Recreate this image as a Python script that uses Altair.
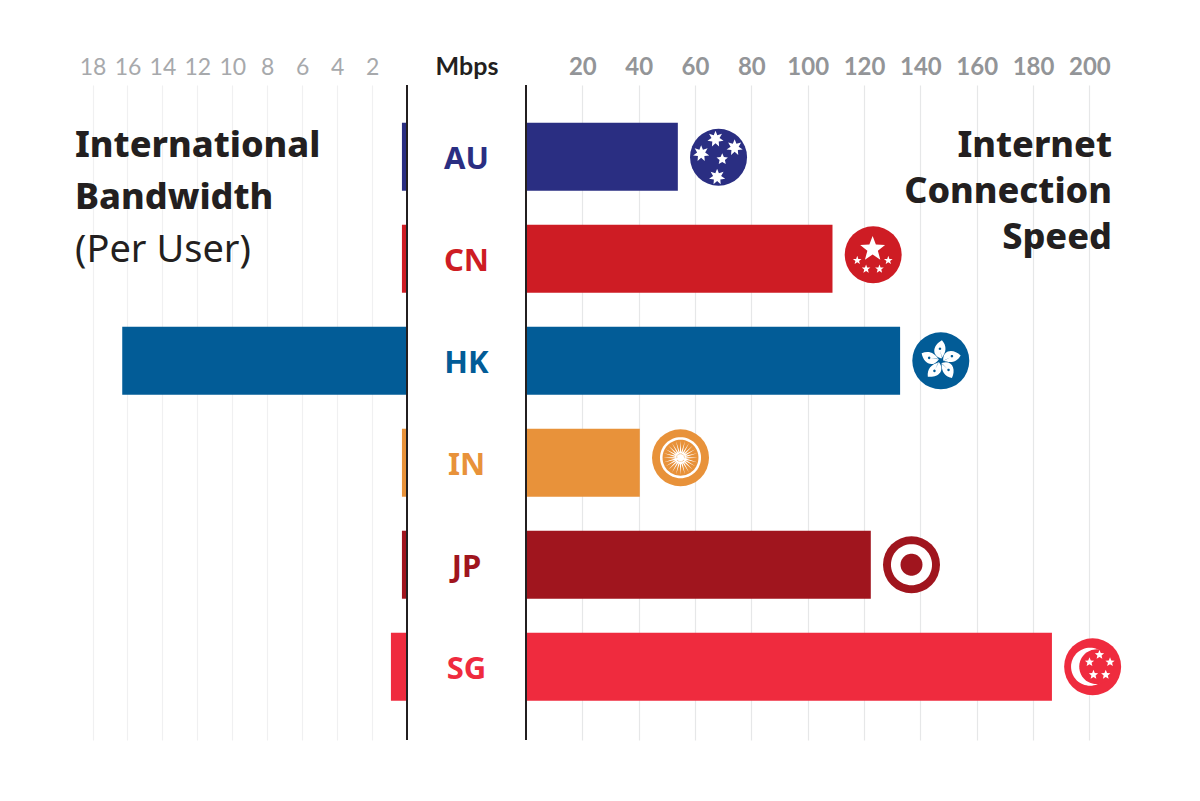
import math
import altair as alt
import pandas as pd

codes = ["AU", "CN", "HK", "IN", "JP", "SG"]
speed = [53.9, 108.8, 132.8, 40.4, 122.4, 186.7]
bandwidth = [0.29, 0.29, 16.3, 0.29, 0.29, 0.92]
colors = ["#2a2e82", "#ce1c24", "#025c97", "#e8923a", "#a0151e", "#ef2b3e"]
left_ticks = [2, 4, 6, 8, 10, 12, 14, 16, 18]
right_ticks = [20, 40, 60, 80, 100, 120, 140, 160, 180, 200]
flag_dy = [0.5, -4, 0, -5, 0, 0]

TITLE = "Noto Sans"
TICK = "Lato"
df = pd.DataFrame({"code": codes, "speed": speed, "bandwidth": bandwidth, "color": colors, "dy": flag_dy})
df["mid"] = 0.5


def circ(cx, cy, r, n=64):
    pts = [(cx + r * math.cos(2 * math.pi * i / n), cy + r * math.sin(2 * math.pi * i / n)) for i in range(n)]
    return "M" + "L".join(f"{x:.3f},{y:.3f}" for x, y in pts) + "Z"


def star(cx, cy, r, points=5, ratio=0.42):
    pts = []
    for i in range(points * 2):
        a = -math.pi / 2 + math.pi * i / points
        q = r if i % 2 == 0 else r * ratio
        pts.append((cx + q * math.cos(a), cy + q * math.sin(a)))
    return "M" + "L".join(f"{x:.3f},{y:.3f}" for x, y in pts) + "Z"


def rot(p, deg):
    a = math.radians(deg)
    return (p[0] * math.cos(a) - p[1] * math.sin(a), p[0] * math.sin(a) + p[1] * math.cos(a))


def petals():
    out = ""
    fmt = lambda p: f"{p[0]:.3f},{p[1]:.3f}"
    for k in range(5):
        d = 72 * k
        s, c1, c2, t, c3, c4 = [rot(p, d) for p in [(0.02, -0.08), (-0.36, -0.2), (-0.26, -0.56), (0.04, -0.72),
                                                     (0.22, -0.52), (0.2, -0.3)]]
        out += f"M{fmt(s)}C{fmt(c1)} {fmt(c2)} {fmt(t)}C{fmt(c3)} {fmt(c4)} {fmt(s)}Z"
    return out


def petal_marks():
    out = ""
    for k in range(5):
        d = 72 * k
        x, y = rot((-0.03, -0.42), d)
        out += circ(x, y, 0.045, 12)
        a, b, e = [rot(p, d) for p in [(0.02, -0.12), (0.034, -0.12), (-0.015, -0.36)]]
        out += f"M{a[0]:.3f},{a[1]:.3f}L{b[0]:.3f},{b[1]:.3f}L{e[0]:.3f},{e[1]:.3f}Z"
    return out


def spokes():
    out = ""
    for k in range(24):
        d = 15 * k
        a, b, c = [rot(p, d) for p in [(-0.035, 0.0), (0.035, 0.0), (0.0, -0.6)]]
        out += f"M{a[0]:.3f},{a[1]:.3f}L{b[0]:.3f},{b[1]:.3f}L{c[0]:.3f},{c[1]:.3f}Z"
    return out + circ(0, 0, 0.15, 24)


white_a = {
    "AU": star(-0.106, -0.64, 0.29, 7, 0.5) + star(0.565, -0.34, 0.29, 7, 0.5) + star(-0.61, -0.13, 0.29, 7, 0.5)
    + star(0.13, 0.07, 0.21, 5, 0.47) + star(-0.05, 0.69, 0.29, 7, 0.5),
    "CN": star(-0.02, -0.2, 0.46) + star(-0.56, 0.2, 0.16) + star(-0.25, 0.5, 0.16) + star(0.22, 0.5, 0.16) + star(0.53, 0.2, 0.16),
    "HK": petals(),
    "IN": circ(0, 0, 0.72),
    "JP": circ(0, 0, 0.72),
    "SG": circ(-0.09, 0, 0.667),
}
color_b = {
    "HK": petal_marks(),
    "IN": circ(0, 0, 0.63),
    "JP": circ(0, 0, 0.385),
    "SG": circ(0.14, 0, 0.61),
}
white_c = {
    "IN": spokes(),
    "SG": star(0.24, -0.42, 0.17, 5, 0.45) + star(-0.11, -0.16, 0.17, 5, 0.45) + star(0.61, -0.16, 0.17, 5, 0.45)
    + star(0.03, 0.28, 0.17, 5, 0.45) + star(0.46, 0.28, 0.17, 5, 0.45),
}

yscale = alt.Scale(type="band", domain=codes, paddingInner=1 / 3, paddingOuter=0.3775, align=0.49)
ye = alt.Y("code:N", scale=yscale, axis=None)
colscale = alt.Color("color:N", scale=None)
EXT = 77

# LEFT
lx = alt.Scale(domain=[0, 399 / 17.47], reverse=True, nice=False, zero=False)
left_axis = alt.Axis(orient="top", values=left_ticks, title=None, domain=False, ticks=False, labelFont=TICK,
                     labelFontWeight=400, labelFontSize=23, labelColor="#a7a9ac", labelPadding=6, labelAngle=0,
                     gridColor="#f0f0f1", gridWidth=1.2, minExtent=EXT, maxExtent=EXT, labelOverlap=False,
                     labelFlush=False)
left_bars = alt.Chart(df).mark_bar(orient="horizontal").encode(
    x=alt.X("bandwidth:Q", scale=lx, axis=left_axis), y=ye, color=colscale)
left_rule = alt.Chart(df.head(1)).mark_rule(color="#231f20", strokeWidth=2).encode(
    x=alt.X("zero:Q", scale=lx)).transform_calculate(zero="0")
tl = [("International", 157, 800, 36), ("Bandwidth", 209, 800, 36), ("(Per User)", 262, 400, 38)]
ltexts = [
    alt.Chart(pd.DataFrame({"t": [t]})).mark_text(align="left", baseline="alphabetic", font=TITLE, fontSize=fs,
        fontWeight=w, color="#231f20").encode(text="t:N", x=alt.value(67), y=alt.value(py - 85))
    for t, py, w, fs in tl
]
left = alt.layer(left_bars, left_rule, *ltexts).properties(width=399, height=655)

# CENTER
cx = alt.Scale(domain=[0, 1], nice=False)
center_axis = alt.Axis(orient="top", title=None, values=[0.5], labelExpr="'Mbps'", ticks=False, domain=False, grid=False,
                       labelFont=TICK, labelFontSize=25, labelFontWeight="bold", labelColor="#231f20", labelPadding=6,
                       labelAngle=0, minExtent=EXT, maxExtent=EXT, labelFlush=False)
center = alt.Chart(df).mark_text(font="Noto Sans", fontWeight="bold", fontSize=31, baseline="middle", dy=3.5).encode(
    x=alt.X("mid:Q", scale=cx, axis=center_axis), y=ye, text="code:N", color=colscale
).properties(width=119, height=655)

# RIGHT
rx = alt.Scale(domain=[0, 600 / 2.817], nice=False)
right_axis = alt.Axis(orient="top", values=right_ticks, title=None, domain=False, ticks=False, labelFont=TICK,
                      labelFontWeight="bold", labelFontSize=24, labelColor="#939598", labelPadding=6, labelAngle=0,
                      gridColor="#e6e7e8", gridWidth=1.2, minExtent=EXT, maxExtent=EXT, labelOverlap=False,
                      labelFlush=False)
right_bars = alt.Chart(df).mark_bar(orient="horizontal").encode(
    x=alt.X("speed:Q", scale=rx, axis=right_axis), y=ye, color=colscale)
right_rule = alt.Chart(df.head(1)).mark_rule(color="#231f20", strokeWidth=2).encode(
    x=alt.X("zero:Q", scale=rx)).transform_calculate(zero="0")
tr = [("Internet", 157), ("Connection", 203), ("Speed", 249)]
rtexts = [
    alt.Chart(pd.DataFrame({"t": [t]})).mark_text(align="right", baseline="alphabetic", font=TITLE, fontSize=36,
        fontWeight=800, color="#231f20").encode(text="t:N", x=alt.value(586), y=alt.value(py - 85))
    for t, py in tr
]

SIZE = 57 ** 2
def glyph(code, dy, shape, fill):
    sub = df[df.code == code]
    return alt.Chart(sub).mark_point(filled=True, opacity=1, strokeWidth=0, size=SIZE, shape=shape, fill=fill,
                                     xOffset=40.7, yOffset=dy).encode(
        x=alt.X("speed:Q", scale=rx), y=ye)

flags = []
for code, col, dy in zip(codes, colors, flag_dy):
    flags.append(glyph(code, dy, "circle", col))
    flags.append(glyph(code, dy, white_a[code], "#ffffff"))
    if code in color_b:
        flags.append(glyph(code, dy, color_b[code], col))
    if code in white_c:
        flags.append(glyph(code, dy, white_c[code], "#ffffff"))

right = alt.layer(right_bars, right_rule, *flags, *rtexts).properties(width=600, height=655)

chart = alt.hconcat(left, center, right, spacing=0, bounds="flush").configure_view(stroke=None).properties(
    padding=0, background="#ffffff")
chart.save("out.html", embed_options={"renderer": "svg", "actions": False})
